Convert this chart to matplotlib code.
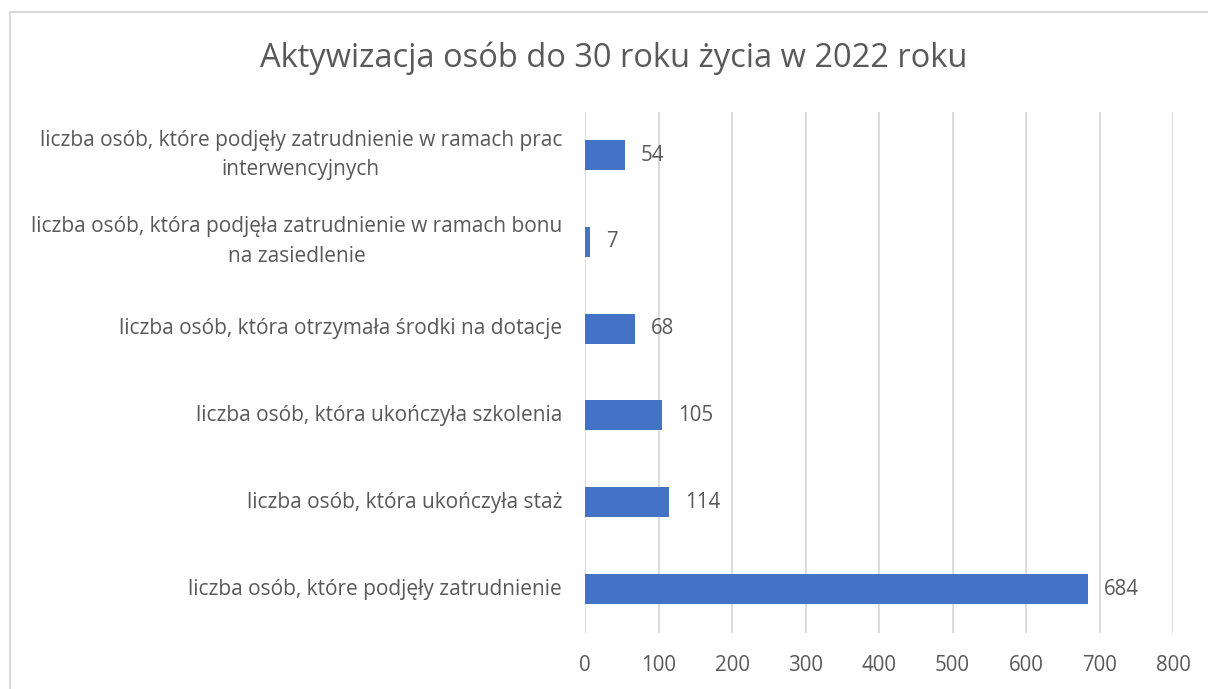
import matplotlib.pyplot as plt
from matplotlib.patches import Rectangle
from matplotlib.transforms import ScaledTranslation

categories = [
    "liczba osób, które podjęły zatrudnienie w ramach prac\ninterwencyjnych",
    "liczba osób, która podjęła zatrudnienie w ramach bonu\nna zasiedlenie",
    "liczba osób, która otrzymała środki na dotacje",
    "liczba osób, która ukończyła szkolenia",
    "liczba osób, która ukończyła staż",
    "liczba osób, które podjęły zatrudnienie",
]
values = [54, 7, 68, 105, 114, 684]
x_ticks = [0, 100, 200, 300, 400, 500, 600, 700, 800]

text_color = "#595959"
bar_color = "#4472c4"
grid_color = "#d9d9d9"

plt.rcParams['font.family'] = ['Open Sans', 'DejaVu Sans']

fig = plt.figure(figsize=(12.08, 6.89), dpi=100)
ax = fig.add_axes([0.4843, 0.082, 0.4868, 0.756])

pos = list(range(len(categories)))[::-1]
ax.barh(pos, values, height=0.345, color=bar_color, zorder=3)
for p, v in zip(pos, values):
    ax.text(v + 22, p, str(v), va="center", ha="left", fontsize=14.8, color=text_color)

ax.set_xlim(0, 800)
ax.set_ylim(-0.5, 5.5)
ax.set_xticks(x_ticks)
ax.set_xticklabels([str(t) for t in x_ticks], fontsize=14.8, color=text_color)
ax.set_yticks(pos)
ax.set_yticklabels([])

# category labels drawn by hand so multi-line ones centre on the bar
label_trans = ax.get_yaxis_transform() + ScaledTranslation(-0.23, 0, fig.dpi_scale_trans)
for p, c in zip(pos, categories):
    ax.text(0, p, c, transform=label_trans, ha="right", va="center",
            multialignment="center", linespacing=1.55, fontsize=15, color=text_color)

ax.tick_params(axis="both", length=0)
ax.tick_params(axis="x", pad=16)
ax.grid(axis="x", color=grid_color, linewidth=1.3, zorder=0)
for s in ax.spines.values():
    s.set_visible(False)

fig.text(0.508, 0.915, "Aktywizacja osób do 30 roku życia w 2022 roku",
         ha="center", va="center", fontsize=23.5, color=text_color)

fig.patches.append(Rectangle((10 / 1208, -0.1), 1.2, 1.1 - 12 / 689,
                             transform=fig.transFigure, fill=False,
                             edgecolor="#d9d9d9", linewidth=1.5))

fig.savefig("out.png", dpi=100)
